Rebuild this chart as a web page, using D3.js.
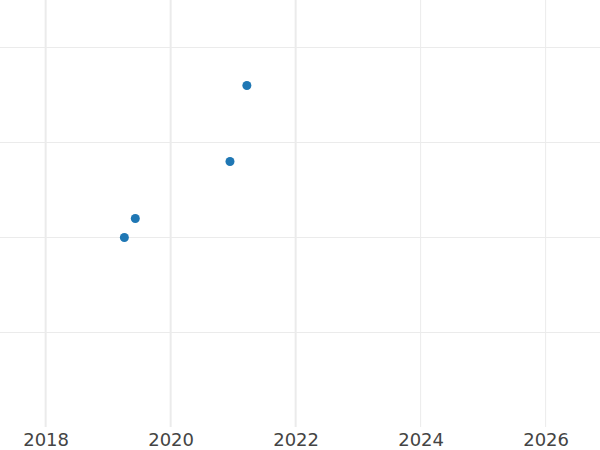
<!DOCTYPE html>
<html>
<head>
<meta charset="utf-8">
<script src="https://cdn.jsdelivr.net/npm/d3@7"></script>
<style>
  html, body { margin: 0; padding: 0; background: #fff; }
  svg { display: block; }
</style>
</head>
<body>
<svg id="chart" width="600" height="450"></svg>
<script>
// Data
const years = [2019.26, 2019.435, 2020.95, 2021.22];
const values = [20, 22, 28, 36];
const xTickValues = [2018, 2020, 2022, 2024, 2026];
const yGridValues = [10, 20, 30, 40];

const W = 600, H = 450;
const plotBottom = 427;

const svg = d3.select("#chart");

const x = d3.scaleLinear().domain([2017.27, 2026.87]).range([0, W]);
const y = d3.scaleLinear().domain([0, 45]).range([427.5, 0]);

// horizontal grid
svg.append("g")
  .selectAll("line")
  .data(yGridValues)
  .join("line")
  .attr("x1", 0).attr("x2", W)
  .attr("y1", d => y(d)).attr("y2", d => y(d))
  .attr("stroke", "#ebebeb")
  .attr("stroke-width", 1);

// vertical grid
svg.append("g")
  .selectAll("line")
  .data(xTickValues)
  .join("line")
  .attr("x1", d => x(d)).attr("x2", d => x(d))
  .attr("y1", 0).attr("y2", plotBottom)
  .attr("stroke", "#ebebeb")
  .attr("stroke-width", d => d <= 2022 ? 2 : 1);

// x axis labels
const xAxis = d3.axisBottom(x)
  .tickValues(xTickValues)
  .tickFormat(d3.format("d"))
  .tickSize(0)
  .tickPadding(6);

const gx = svg.append("g")
  .attr("transform", `translate(0,${plotBottom})`)
  .call(xAxis);
gx.select(".domain").remove();
gx.selectAll("text")
  .attr("font-family", "DejaVu Sans, sans-serif")
  .attr("font-size", 18)
  .attr("fill", "#444");

// points
svg.append("g")
  .selectAll("circle")
  .data(years.map((yr, i) => ({ yr, v: values[i] })))
  .join("circle")
  .attr("cx", d => x(d.yr))
  .attr("cy", d => y(d.v))
  .attr("r", 4.5)
  .attr("fill", "#1f77b4");
</script>
</body>
</html>
